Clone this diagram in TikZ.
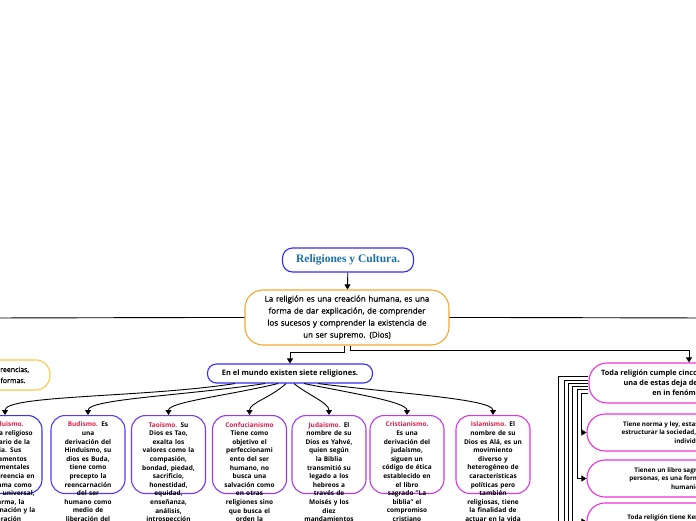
\documentclass[tikz,border=0pt]{standalone}
\usepackage{fontspec}
\setmainfont{Open Sans}
\newfontfamily\titlefont{Liberation Serif}
\newfontfamily\mediumfont[FakeBold=0.8]{Open Sans}
\usetikzlibrary{arrows.meta, positioning}

\definecolor{titleblue}{RGB}{26,112,168}
\definecolor{mapblue}{RGB}{52,44,250}
\definecolor{maporange}{RGB}{246,168,44}
\definecolor{mapyellow}{RGB}{250,200,70}
\definecolor{mapred}{RGB}{222,30,72}
\definecolor{mappink}{RGB}{240,48,222}
\definecolor{relA}{RGB}{58,50,250}
\definecolor{relB}{RGB}{86,56,248}
\definecolor{relC}{RGB}{116,58,244}
\definecolor{relD}{RGB}{146,58,240}
\definecolor{relE}{RGB}{172,58,238}
\definecolor{relF}{RGB}{198,56,234}
\definecolor{relG}{RGB}{222,52,230}

\newcommand{\relname}[1]{\textcolor{mapred}{#1}}

\begin{document}
\begin{tikzpicture}[x=1pt, y=-1pt,
  link/.style={line width=0.9pt, -{Triangle[length=5pt, width=6pt]}},
  relbox/.style={draw=#1, line width=1.1pt, rounded corners=14pt, anchor=north,
    minimum width=74pt, text width=68pt, align=center, inner xsep=3pt, inner ysep=6.5pt,
    text depth=60pt, font=\fontsize{6.5}{8.6}\selectfont\bfseries},
  featbox/.style={draw=mappink, line width=1.1pt, rounded corners=18pt,
    minimum width=206pt, minimum height=37pt, align=center,
    font=\fontsize{6.3}{8.6}\selectfont\bfseries}]
  \path[use as bounding box, clip] (0,0) rectangle (696,520);

  % centre
  \node (title) [draw=mapblue, line width=1.1pt, rounded corners=10pt, minimum width=131pt,
    minimum height=24pt, text=titleblue, font=\titlefont\fontsize{11.5}{13}\selectfont\bfseries]
    at (348,260) {Religiones y Cultura.};
  \node (main) [draw=maporange, line width=1.1pt, rounded corners=18pt, minimum width=204pt,
    minimum height=55pt, text width=196pt, align=center, font=\mediumfont\fontsize{8}{12}\selectfont]
    at (347,317.5) {La religión es una creación humana, es una\\ forma de dar explicación, de comprender\\
    los sucesos y comprender la existencia de\\ un ser supremo. (Dios)};
  \node (mundo) [draw=mapblue, line width=1.1pt, rounded corners=9pt, minimum width=165pt,
    minimum height=19pt, font=\fontsize{7.5}{9}\selectfont\bfseries]
    at (290,373.5) {En el mundo existen siete religiones.};
  \node (creen) [draw=mapyellow, line width=1.1pt, rounded corners=14pt, minimum width=74pt,
    minimum height=30pt, align=center, font=\mediumfont\fontsize{7}{11}\selectfont]
    at (13,375) {creencias,\\ formas.};
  \coordinate (offL) at (-60,318);
  \coordinate (offR) at (760,318);

  % las siete religiones
  \node (hindu) [relbox=relA] at (5,415) {\relname{Hinduismo.}\\ Sistema religioso\\ originario de la\\
    India. Sus\\ fundamentos\\ fundamentales\\ son la creencia en\\ el Brahma como\\ espíritu universal,\\
    el karma, la\\ reencarnación y la\\ liberación};
  \node (budismo) [relbox=relB] at (88,415) {\relname{Budismo.} Es\\ una\\ derivación del\\ Hinduismo, su\\
    dios es Buda,\\ tiene como\\ precepto la\\ reencarnación\\ del ser\\ humano como\\ medio de\\ liberación del};
  \node (taoismo) [relbox=relC] at (168.5,415) {\relname{Taoísmo.} Su\\ Dios es Tao,\\ exalta los\\
    valores como la\\ compasión,\\ bondad, piedad,\\ sacrificio,\\ honestidad,\\ equidad,\\ enseñanza,\\
    análisis,\\ introspección};
  \node (confu) [relbox=relD] at (249.5,415) {\relname{Confucianismo}\\ Tiene como\\ objetivo el\\
    perfeccionami\\ ento del ser\\ humano, no\\ busca una\\ salvación como\\ en otras\\ religiones sino\\
    que busca el\\ orden la};
  \node (judaismo) [relbox=relE] at (329,415) {\relname{Judaísmo.} El\\ nombre de su\\ Dios es Yahvé,\\
    quien según\\ la Biblia\\ transmitió su\\ legado a los\\ hebreos a\\ través de\\ Moisés y los\\ diez\\ mandamientos};
  \node (cristo) [relbox=relF] at (407,415) {\relname{Cristianismo.}\\ Es una\\ derivación del\\ judaísmo,\\
    siguen un\\ código de ética\\ establecido en\\ el libro\\ sagrado "La\\ biblia" el\\ compromiso\\ cristiano};
  \node (islam) [relbox=relG] at (493,415) {\relname{Islamismo.} El\\ nombre de su\\ Dios es Alá, es un\\
    movimiento\\ diverso y\\ heterogéneo de\\ características\\ políticas pero\\ también\\ religiosas, tiene\\
    la finalidad de\\ actuar en la vida};

  % las cinco caracteristicas
  \node (cinco) [draw=mappink, line width=1.1pt, rounded corners=18pt, minimum width=186pt,
    minimum height=40pt, align=center, font=\fontsize{7.3}{10}\selectfont\bfseries]
    at (682,383) {Toda religión cumple cinco características, si\\ una de estas deja de ser religión\\ en in fenómeno.};
  \node (norma) [featbox] at (690,432.5) {Tiene norma y ley, estas son para regular y\\
    estructurar la sociedad, sirven como guía al\\ individuo.};
  \node (libro) [featbox] at (690,478.5) {Tienen un libro sagrado: es para las\\
    personas, es una forma de vida para la\\ humanidad.};
  \node (kerigma) [featbox] at (690,521.5) {Toda religión tiene Kerigma, su mensaje\\ central.};
  \coordinate (featD) at (587,565);
  \coordinate (featE) at (587,610);
  \coordinate (featF) at (587,655);

  \draw[link] (title) -- (main);
  \draw[link] (main.west) to[out=180, in=0] (offL);
  \draw[link] (main.east) to[out=0, in=180] (offR);
  \draw[link] ([xshift=-3pt]main.south) -- ++(0,7) -| (mundo.north);
  \draw[link] ([xshift=3pt]main.south) -- ++(0,5) -| ([xshift=7pt]cinco.north);

  \draw[link] ([xshift=-55pt]mundo.south) .. controls +(-90,14) and +(0,-20) .. (hindu.north);
  \draw[link] ([xshift=-25pt]mundo.south) .. controls +(-80,12) and +(0,-16) .. (budismo.north);
  \draw[link] ([xshift=-12pt]mundo.south) .. controls +(-50,12) and +(0,-13) .. (taoismo.north);
  \draw[link] ([xshift=-4pt]mundo.south) .. controls +(-15,14) and +(0,-12) .. (confu.north);
  \draw[link] ([xshift=4pt]mundo.south) .. controls +(15,12) and +(0,-12) .. (judaismo.north);
  \draw[link] ([xshift=14pt]mundo.south) .. controls +(50,10) and +(0,-13) .. (cristo.north);
  \draw[link] ([xshift=28pt]mundo.south) .. controls +(80,10) and +(0,-16) .. (islam.north);

  \draw[link] ([yshift=-10pt]cinco.west) -- ++(-7,0) |- (norma.west);
  \draw[link] ([yshift=-6pt]cinco.west) -- ++(-11,0) |- (libro.west);
  \draw[link] ([yshift=-3pt]cinco.west) -- ++(-16,0) |- (kerigma.west);
  \draw[link] (cinco.west) -- ++(-20,0) |- (featD);
  \draw[link] ([yshift=3pt]cinco.west) -- ++(-24,0) |- (featE);
  \draw[link] ([yshift=7pt]cinco.west) -- ++(-30,0) |- (featF);
\end{tikzpicture}
\end{document}
